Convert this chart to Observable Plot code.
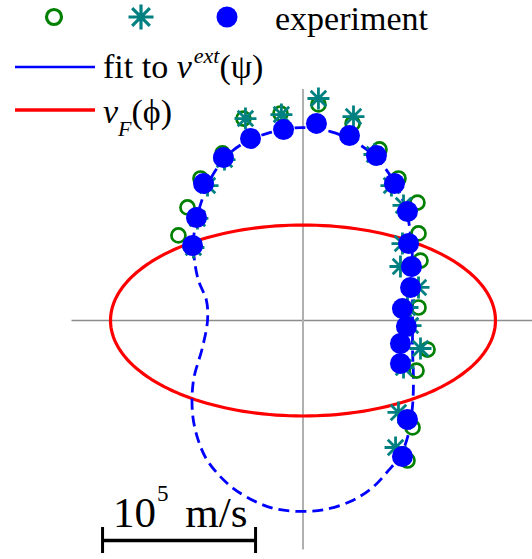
<!DOCTYPE html>
<html><head><meta charset="utf-8">
<script src="https://cdn.jsdelivr.net/npm/d3@7"></script>
<script src="https://cdn.jsdelivr.net/npm/@observablehq/plot@0.6"></script>
<style>html,body{margin:0;padding:0;background:#fff}
.lg text, .lg tspan{font-family:"Liberation Serif","Times New Roman","DejaVu Serif",serif;}</style>
</head><body><div id="chart"></div>
<script>
// all velocities in units of 10^5 m/s
const expX = [-0.722,-0.696,-0.650,-0.520,-0.343,-0.127,0.088,0.304,0.480,0.598,0.683,0.690,0.709,0.703,0.650,0.676,0.637,0.637,0.683,0.650];
const expY = [0.490,0.673,0.895,1.065,1.190,1.248,1.288,1.209,1.078,0.895,0.712,0.503,0.353,0.216,0.078,-0.039,-0.150,-0.281,-0.647,-0.889];
const circX = [-0.814,-0.755,-0.670,-0.526,-0.389,-0.147,0.101,0.324,0.500,0.624,0.748,0.755,0.768,0.755,0.814,0.742,0.716,0.683];
const circY = [0.556,0.739,0.928,1.092,1.320,1.353,1.412,1.288,1.118,0.928,0.771,0.569,0.392,0.085,-0.190,-0.327,-0.699,-0.915];
const starX = [-0.716,-0.690,-0.624,-0.513,-0.376,-0.141,0.101,0.330,0.467,0.578,0.657,0.650,0.637,0.755,0.683,0.703,0.768,0.657,0.624,0.605];
const starY = [0.477,0.667,0.882,1.052,1.320,1.346,1.451,1.333,1.085,0.882,0.752,0.503,0.353,0.216,0.085,-0.033,-0.183,-0.307,-0.601,-0.830];
const fitX = [0.003,0.180,0.324,0.441,0.539,0.618,0.676,0.703,0.716,0.716,0.716,0.716,0.722,0.716,0.690,0.637,0.559,0.454,0.324,0.147,0.003,-0.160,-0.297,-0.454,-0.559,-0.637,-0.690,-0.722,-0.716,-0.657,-0.624,-0.631,-0.683,-0.709,-0.716,-0.690,-0.637,-0.572,-0.474,-0.356,-0.212,-0.082];
const fitY = [1.261,1.235,1.176,1.098,0.993,0.863,0.719,0.556,0.392,0.196,0,-0.196,-0.392,-0.556,-0.739,-0.882,-0.980,-1.092,-1.176,-1.235,-1.248,-1.235,-1.190,-1.098,-1.000,-0.895,-0.765,-0.608,-0.392,-0.176,0,0.131,0.261,0.392,0.523,0.686,0.850,0.980,1.098,1.176,1.229,1.255];
// Fermi-velocity ellipse semi-axes
const vFa = 1.258, vFb = 0.624;
const axisExtent = 1.5;
const scaleBarX = [-1.31, -0.31];
const scaleBarY = -1.438;

const zip = (xs, ys) => xs.map((x, i) => ({x, y: ys[i]}));
const exp = zip(expX, expY), circ = zip(circX, circY), star = zip(starX, starY), fit = zip(fitX, fitY);
const ellipse = d3.range(0, 361, 2).map(a => ({x: vFa * Math.cos(a * Math.PI / 180), y: vFb * Math.sin(a * Math.PI / 180)}));

const asterisk8 = {draw(ctx, size) {
  const r = Math.sqrt(size / Math.PI), d = r * Math.SQRT1_2;
  ctx.moveTo(-r, 0); ctx.lineTo(r, 0);
  ctx.moveTo(0, -r); ctx.lineTo(0, r);
  ctx.moveTo(-d, -d); ctx.lineTo(d, d);
  ctx.moveTo(-d, d); ctx.lineTo(d, -d);
}};

const GREEN = "#008000", TEAL = "#008080", BLUE = "#0000ff", RED = "#ff0000";

const plot = Plot.plot({
  width: 532, height: 559, margin: 0,
  x: {domain: [-1.977, 1.5], axis: null},
  y: {domain: [-1.562, 2.0915], axis: null},
  marks: [
    Plot.ruleY([0], {x1: -axisExtent - 0.01, x2: axisExtent, stroke: "#8c8c8c", strokeWidth: 1.5}),
    Plot.ruleX([0], {y1: -axisExtent, y2: axisExtent + 0.01, stroke: "#b0b0b0", strokeWidth: 2}),
    Plot.line(ellipse, {x: "x", y: "y", stroke: RED, strokeWidth: 3.2}),
    Plot.line(fit, {x: "x", y: "y", curve: "catmull-rom-closed", stroke: BLUE, strokeWidth: 2.8, strokeDasharray: "11,6", strokeLinecap: "butt"}),
    Plot.dot(circ, {x: "x", y: "y", r: 7, stroke: GREEN, strokeWidth: 2.7, fill: "none"}),
    Plot.dot(star, {x: "x", y: "y", r: 11, symbol: asterisk8, stroke: TEAL, strokeWidth: 2.8, fill: "none"}),
    Plot.dot(exp, {x: "x", y: "y", r: 10.5, fill: BLUE, stroke: "none"}),
    Plot.ruleY([scaleBarY], {x1: scaleBarX[0], x2: scaleBarX[1], stroke: "#000", strokeWidth: 3.5}),
    Plot.ruleX(scaleBarX, {y1: scaleBarY - 0.085, y2: scaleBarY + 0.085, stroke: "#000", strokeWidth: 3})
  ]
});
document.getElementById("chart").appendChild(plot);

// legend + scale label
const svg = d3.select(plot);
const g = svg.append("g").attr("class", "lg").attr("fill", "#000").attr("text-anchor", "start").style("text-anchor", "start");
g.append("circle").attr("cx", 54).attr("cy", 17).attr("r", 7.5).attr("fill", "none").attr("stroke", GREEN).attr("stroke-width", 3.2);
const ar = 12.5, ad = ar * Math.SQRT1_2;
g.append("path").attr("transform", "translate(141,17)")
  .attr("d", `M${-ar},0L${ar},0M0,${-ar}L0,${ar}M${-ad},${-ad}L${ad},${ad}M${-ad},${ad}L${ad},${-ad}`)
  .attr("stroke", TEAL).attr("stroke-width", 3.2).attr("fill", "none");
g.append("circle").attr("cx", 227).attr("cy", 17).attr("r", 10.5).attr("fill", BLUE);
g.append("text").attr("x", 275).attr("y", 30).style("font-size", "34px").text("experiment");
g.append("line").attr("x1", 15).attr("x2", 95).attr("y1", 67).attr("y2", 67).attr("stroke", BLUE).attr("stroke-width", 2.5);
const t2 = g.append("text").attr("x", 103).attr("y", 78).style("font-size", "34px");
t2.append("tspan").text("fit to ");
t2.append("tspan").style("font-style", "italic").text("v");
t2.append("tspan").style("font-style", "italic").style("font-size", "22px").attr("dy", -15).attr("dx", 2).text("ext");
t2.append("tspan").attr("dy", 15).text("(ψ)");
g.append("line").attr("x1", 15).attr("x2", 95).attr("y1", 110).attr("y2", 110).attr("stroke", RED).attr("stroke-width", 3.5);
const t3 = g.append("text").attr("x", 103).attr("y", 123).style("font-size", "34px");
t3.append("tspan").style("font-style", "italic").text("v");
t3.append("tspan").style("font-style", "italic").style("font-size", "22px").attr("dy", 13).text("F");
t3.append("tspan").attr("dy", -13).text("(ϕ)");

const sx = plot.scale("x"), sy = plot.scale("y");
const barLeft = sx.apply(scaleBarX[0]), barY = sy.apply(scaleBarY);
const t4 = g.append("text").attr("x", barLeft + 11).attr("y", barY - 13).style("font-size", "43px");
t4.append("tspan").text("10");
t4.append("tspan").style("font-size", "23px").attr("dy", -26).attr("dx", 1).text("5");
t4.append("tspan").attr("dy", 26).attr("dx", 6).text(" m/s");
</script>
</body></html>
